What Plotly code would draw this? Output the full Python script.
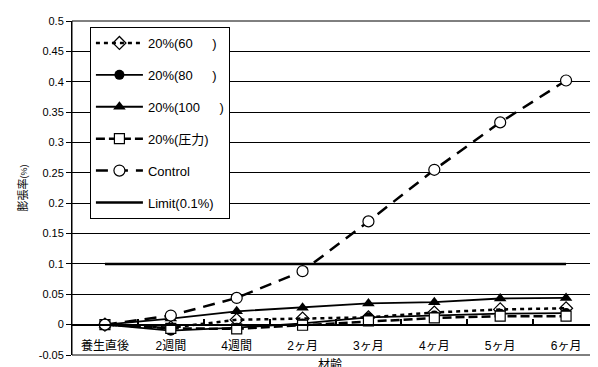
import plotly.graph_objects as go

categories = ["養生直後", "2週間", "4週間", "2ヶ月", "3ヶ月", "4ヶ月", "5ヶ月", "6ヶ月"]
s60 = [0, -0.005, 0.008, 0.010, 0.012, 0.020, 0.025, 0.027]
s80 = [0, -0.010, -0.005, 0.002, 0.012, 0.015, 0.018, 0.019]
s100 = [0, 0.010, 0.022, 0.028, 0.035, 0.037, 0.043, 0.044]
s_press = [0, -0.006, -0.007, -0.001, 0.006, 0.011, 0.014, 0.014]
control = [0, 0.015, 0.044, 0.088, 0.170, 0.255, 0.333, 0.402]
limit = [0.1] * 8
ytick_vals = [0.5, 0.45, 0.4, 0.35, 0.3, 0.25, 0.2, 0.15, 0.1, 0.05, 0, -0.05]
ytick_text = ["0.5", "0.45", "0.4", "0.35", "0.3", "0.25", "0.2", "0.15", "0.1", "0.05", "0", "-0.05"]

names = ["20%(60\u3000\u2002)", "20%(80\u3000\u2002)", "20%(100\u3000\u2002)",
         "20%(圧力)", "Control", "Limit(0.1%)"]

FONT = "Liberation Sans, Arial, Noto Sans CJK JP"

fig = go.Figure()
fig.add_trace(go.Scatter(x=categories, y=s60, name=names[0], mode="lines+markers",
                         line=dict(color="black", width=2.5, dash="4px,4px"),
                         marker=dict(symbol="diamond-open", size=10, color="black", line=dict(width=1.2)),
                         legendgroup="a"))
fig.add_trace(go.Scatter(x=categories, y=s80, name=names[1], mode="lines+markers",
                         line=dict(color="black", width=1.8),
                         marker=dict(symbol="circle", size=10, color="black"),
                         legendgroup="b"))
fig.add_trace(go.Scatter(x=categories, y=s100, name=names[2], mode="lines+markers",
                         line=dict(color="black", width=1.8),
                         marker=dict(symbol="triangle-up", size=11, color="black"),
                         legendgroup="c"))
fig.add_trace(go.Scatter(x=categories, y=s_press, name=names[3], mode="lines+markers",
                         line=dict(color="black", width=2.5, dash="9px,4px"),
                         marker=dict(symbol="square", size=10, color="white", line=dict(color="black", width=1.2)),
                         legendgroup="d"))
fig.add_trace(go.Scatter(x=categories, y=control, name=names[4], mode="lines+markers",
                         line=dict(color="black", width=2.5, dash="12px,8px"),
                         marker=dict(symbol="circle", size=11, color="white", line=dict(color="black", width=1.2)),
                         legendgroup="e"))
fig.add_trace(go.Scatter(x=categories, y=limit, name=names[5], mode="lines",
                         line=dict(color="black", width=2.5),
                         legendgroup="f", xaxis="x2", yaxis="y"))

shapes = [dict(type="rect", xref="paper", yref="paper", x0=0, x1=1, y0=0, y1=1,
               line=dict(color="black", width=1), layer="above")]

fig.update_layout(
    width=598, height=367,
    margin=dict(l=64, r=7, t=7, b=20),
    paper_bgcolor="white", plot_bgcolor="white",
    font=dict(family=FONT, size=12, color="black"),
    showlegend=True,
    legend=dict(x=0.034, y=0.982, xanchor="left", yanchor="top",
                bgcolor="white", bordercolor="black", borderwidth=1,
                font=dict(size=13), tracegroupgap=12, itemwidth=47),
    xaxis=dict(type="category", categoryarray=categories, range=[-0.5, 7.5],
               showline=False, showticklabels=False, ticks="",
               showgrid=False, zeroline=False),
    xaxis2=dict(type="category", categoryarray=categories, range=[-0.5, 7.5],
                overlaying="x", anchor="free", position=0.0909, side="bottom",
                showline=True, linecolor="black", linewidth=2,
                ticks="inside", tickson="boundaries", ticklen=5, tickcolor="black",
                tickwidth=1.5,
                showgrid=False, zeroline=False, ticklabelstandoff=10,
                tickfont=dict(size=12)),
    yaxis=dict(range=[-0.05, 0.5], tickvals=ytick_vals, ticktext=ytick_text,
               showline=True, linecolor="black", linewidth=1,
               ticks="outside", ticklen=5, tickcolor="black",
               showgrid=True, gridcolor="black", gridwidth=1, zeroline=False,
               tickfont=dict(size=11),
               title=dict(text="膨張率<span style='font-size:9px'>(%)</span>",
                          font=dict(size=11), standoff=8)),
    shapes=shapes,
    annotations=[dict(text="材齢", xref="paper", yref="paper", x=0.49, y=0,
                      xanchor="center", yanchor="top", yshift=-1, showarrow=False,
                      font=dict(size=12))],
)

fig.write_html("out.html")
